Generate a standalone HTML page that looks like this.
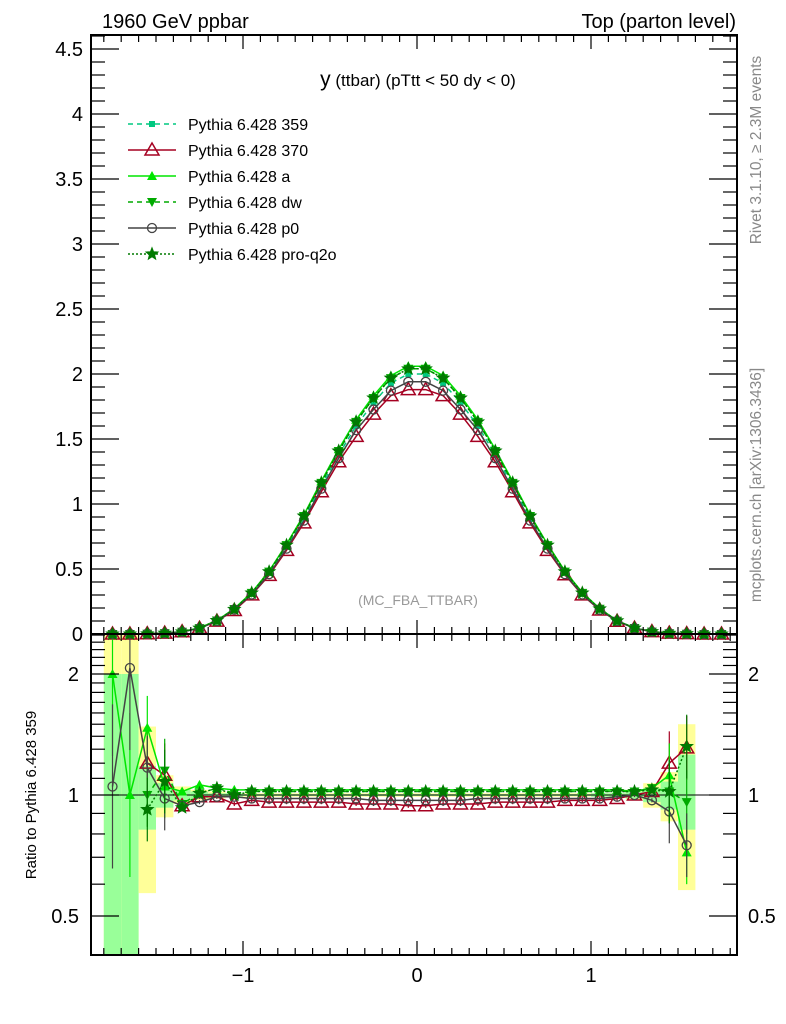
<!DOCTYPE html>
<html><head><meta charset="utf-8">
<style>
body{margin:0;background:#fff;}
svg{display:block;font-family:"Liberation Sans",sans-serif;}
</style></head>
<body>
<svg id="c" width="786" height="1024" viewBox="0 0 786 1024" xmlns="http://www.w3.org/2000/svg">
<text x="102" y="28" font-size="20">1960 GeV ppbar</text>
<text x="736" y="28" font-size="20" text-anchor="end">Top (parton level)</text>
<text x="418" y="86" font-size="17" text-anchor="middle"><tspan font-size="21">y</tspan> (ttbar) (pTtt &lt; 50 dy &lt; 0)</text>
<text x="418" y="605" font-size="14" fill="#999" text-anchor="middle">(MC_FBA_TTBAR)</text>
<text transform="translate(761,150) rotate(-90)" font-size="15.5" fill="#888" text-anchor="middle">Rivet 3.1.10, ≥ 2.3M events</text>
<text transform="translate(761,485) rotate(-90)" font-size="15.5" fill="#888" text-anchor="middle">mcplots.cern.ch [arXiv:1306.3436]</text>
<text transform="translate(36,795) rotate(-90)" font-size="15" text-anchor="middle">Ratio to Pythia 6.428 359</text>
<g id="bands"></g><g id="marks"></g><g id="axes"></g><g id="legend"></g>
</svg>
<script>
const xCenters=[-1.75,-1.65,-1.55,-1.45,-1.35,-1.25,-1.15,-1.05,-0.95,-0.85,-0.75,-0.65,-0.55,-0.45,-0.35,-0.25,-0.15,-0.05,0.05,0.15,0.25,0.35,0.45,0.55,0.65,0.75,0.85,0.95,1.05,1.15,1.25,1.35,1.45,1.55,1.65,1.75];
const ref359=[0.0001,0.0005,0.002,0.006,0.018,0.045,0.10,0.19,0.31,0.47,0.67,0.89,1.14,1.38,1.60,1.78,1.93,2.00,2.00,1.93,1.78,1.60,1.38,1.14,0.89,0.67,0.47,0.31,0.19,0.10,0.045,0.018,0.006,0.002,0.0005,0.0001];
const ratio370=[null,null,1.20,1.12,0.94,0.99,0.99,0.95,0.97,0.96,0.96,0.96,0.96,0.96,0.95,0.95,0.95,0.94,0.94,0.95,0.95,0.95,0.96,0.96,0.96,0.96,0.97,0.97,0.97,0.98,1.00,1.02,1.20,1.31,null,null];
const ratioA=[2.0,1.0,1.47,1.05,1.02,1.06,1.04,1.03,1.03,1.03,1.03,1.03,1.03,1.03,1.03,1.03,1.03,1.03,1.03,1.03,1.03,1.03,1.03,1.03,1.03,1.03,1.03,1.03,1.03,1.03,1.02,1.04,1.12,0.72,null,null];
const ratioDW=[null,null,1.00,1.15,0.95,1.01,1.04,1.01,1.02,1.02,1.02,1.02,1.02,1.02,1.02,1.02,1.02,1.02,1.02,1.02,1.02,1.02,1.02,1.02,1.02,1.02,1.02,1.02,1.02,1.02,1.02,1.04,1.02,0.96,null,null];
const ratioP0=[1.05,2.07,1.17,0.98,0.94,0.96,0.99,0.99,0.98,0.98,0.98,0.98,0.98,0.98,0.98,0.97,0.97,0.97,0.97,0.97,0.97,0.98,0.98,0.98,0.98,0.98,0.98,0.98,0.98,0.99,1.00,0.97,0.91,0.75,null,null];
const ratioQ2O=[null,null,0.92,1.08,0.93,1.01,1.04,1.00,1.02,1.02,1.02,1.02,1.02,1.02,1.02,1.02,1.02,1.02,1.02,1.02,1.02,1.02,1.02,1.02,1.02,1.02,1.02,1.02,1.02,1.02,1.02,1.03,1.02,1.32,null,null];
const yellowLo=[0.4,0.4,0.57,0.88,0.95,0.97,0.98,0.99,0.99,0.99,0.99,0.99,0.99,0.99,0.99,0.99,0.99,0.99,0.99,0.99,0.99,0.99,0.99,0.99,0.99,0.99,0.99,0.99,0.99,0.99,0.97,0.93,0.86,0.58,null,null];
const yellowHi=[2.53,2.53,1.48,1.12,1.05,1.03,1.02,1.01,1.01,1.01,1.01,1.01,1.01,1.01,1.01,1.01,1.01,1.01,1.01,1.01,1.01,1.01,1.01,1.01,1.01,1.01,1.01,1.01,1.01,1.01,1.03,1.07,1.14,1.50,null,null];
const greenLo=[0.4,0.4,0.82,0.93,0.97,0.98,0.99,0.99,0.995,0.995,0.995,0.995,0.995,0.995,0.995,0.995,0.995,0.995,0.995,0.995,0.995,0.995,0.995,0.995,0.995,0.995,0.995,0.995,0.99,0.99,0.98,0.96,0.92,0.82,null,null];
const greenHi=[2.0,2.0,1.18,1.07,1.03,1.02,1.01,1.01,1.005,1.005,1.005,1.005,1.005,1.005,1.005,1.005,1.005,1.005,1.005,1.005,1.005,1.005,1.005,1.005,1.005,1.005,1.005,1.005,1.01,1.01,1.02,1.04,1.08,1.26,null,null];
const mainTicks=[0,0.5,1,1.5,2,2.5,3,3.5,4,4.5];
const mainTickLabels=["0","0.5","1","1.5","2","2.5","3","3.5","4","4.5"];
const ratioTicks=[0.5,1,2];
const ratioTickLabels=["0.5","1","2"];
const xTicks=[-1,0,1];
const xTickLabels=["\u22121","0","1"];

const NS="http://www.w3.org/2000/svg";
const L=91,R=737,T=35,M=634,B=955;
const X=v=>417+v*174;
const Ym=v=>M-v*130;
const Yr=v=>795-Math.log2(v)*121;
const clipR=v=>Math.max(633,Math.min(955,Yr(v)));
function el(tag,attrs,parent){const e=document.createElementNS(NS,tag);for(const k in attrs)e.setAttribute(k,attrs[k]);parent.appendChild(e);return e;}
const bands=document.getElementById('bands'),marks=document.getElementById('marks'),axes=document.getElementById('axes'),legend=document.getElementById('legend');

xCenters.forEach((x,i)=>{
 if(yellowLo[i]==null)return;
 const r=el('rect',{x:X(x-0.05),y:clipR(yellowHi[i]),width:174*0.1,height:clipR(yellowLo[i])-clipR(yellowHi[i]),fill:'#ffff99'},bands);
 
 
 const g=el('rect',{x:X(x-0.05),y:clipR(greenHi[i]),width:174*0.1,height:clipR(greenLo[i])-clipR(greenHi[i]),fill:'#99ff99'},bands);
 
 
});
const one=el('line',{x1:L,x2:R,y1:Yr(1),y2:Yr(1),stroke:'#000','stroke-width':1},bands);



const series=[
 {name:'359',ratio:null,color:'#00c880',dash:'5,4',marker:'square'},
 {name:'370',ratio:ratio370,color:'#a50021',dash:'',marker:'tri-open'},
 {name:'a',ratio:ratioA,color:'#00e600',dash:'',marker:'tri'},
 {name:'dw',ratio:ratioDW,color:'#00aa00',dash:'5,4',marker:'tri-down'},
 {name:'p0',ratio:ratioP0,color:'#444444',dash:'',marker:'circle'},
 {name:'pro-q2o',ratio:ratioQ2O,color:'#007a00',dash:'2,2',marker:'star'}
];
function marker(type,cx,cy,c,parent,nm){
 let m;
 if(type==='square')m=el('rect',{x:cx-3,y:cy-3,width:6,height:6,fill:c},parent);
 else if(type==='tri-open')m=el('polygon',{points:`${cx},${cy-7} ${cx-7},${cy+5} ${cx+7},${cy+5}`,fill:'none',stroke:c,'stroke-width':1.5},parent);
 else if(type==='tri')m=el('polygon',{points:`${cx},${cy-5} ${cx-5},${cy+4} ${cx+5},${cy+4}`,fill:c},parent);
 else if(type==='tri-down')m=el('polygon',{points:`${cx},${cy+5} ${cx-5},${cy-4} ${cx+5},${cy-4}`,fill:c},parent);
 else if(type==='circle')m=el('circle',{cx:cx,cy:cy,r:4.5,fill:'none',stroke:c,'stroke-width':1.3},parent);
 else {let p=[];for(let k=0;k<10;k++){const a=-Math.PI/2+k*Math.PI/5,rr=k%2?2.8:6.5;p.push((cx+rr*Math.cos(a)).toFixed(1)+','+(cy+rr*Math.sin(a)).toFixed(1));}
  m=el('polygon',{points:p.join(' '),fill:c,stroke:c,'stroke-width':0.8},parent);}
 
 
 return m;
}
series.forEach(s=>{
 const g=el('g',{},marks);
 
 
 const rat=s.ratio||xCenters.map((x,i)=>1);
 let pts=[];
 xCenters.forEach((x,i)=>{const r=rat[i]==null?0:rat[i];pts.push([X(x),Ym(ref359[i]*r)]);});
 const pl=el('polyline',{points:pts.map(p=>p.join(',')).join(' '),fill:'none',stroke:s.color,'stroke-width':1.5,'stroke-dasharray':s.dash},g);
 
 
 pts.forEach(p=>marker(s.marker,p[0],p[1],s.color,g,'main-point-'+s.name));
 if(s.ratio){
  let rp=[];
  xCenters.forEach((x,i)=>{if(rat[i]!=null)rp.push([X(x),clipR(rat[i])]);});
  const rl=el('polyline',{points:rp.map(p=>p.join(',')).join(' '),fill:'none',stroke:s.color,'stroke-width':1.5,'stroke-dasharray':s.dash},g);
  
  
  xCenters.forEach((x,i)=>{
   if(rat[i]==null)return;
   const err=i<2?0.6:(i<4||i>31?0.2:0.012);
   const e=el('line',{x1:X(x),x2:X(x),y1:clipR(rat[i]*(1+err)),y2:clipR(rat[i]/(1+err)),stroke:s.color,'stroke-width':1.2},g);
   
   
   if(Yr(rat[i])>=633&&Yr(rat[i])<=955)marker(s.marker,X(x),Yr(rat[i]),s.color,g,'ratio-point-'+s.name);
  });
 }
});

[[T,M],[M,B]].forEach(([t,b],k)=>{
 const f=el('rect',{x:L,y:t,width:R-L,height:b-t,fill:'none',stroke:'#000','stroke-width':2},axes);
 
 
 for(let v=-1.8;v<=1.81;v+=0.1){const px=X(v);if(px<L||px>R)continue;
  const maj=Math.abs(v-Math.round(v))<1e-6;const len=maj?14:7;
  el('line',{x1:px,x2:px,y1:t,y2:t+len,stroke:'#000','stroke-width':1.2},axes);
  el('line',{x1:px,x2:px,y1:b,y2:b-len,stroke:'#000','stroke-width':1.2},axes);}
});
xTicks.forEach((v,i)=>{const t=el('text',{x:X(v),y:982,'font-size':20,'text-anchor':'middle'},axes);t.textContent=xTickLabels[i];
 });
for(let v=0;v<=4.61;v+=0.1){const py=Ym(v);if(py<T)continue;const maj=Math.abs(v*2-Math.round(v*2))<1e-6;const len=maj?28:14;
 el('line',{x1:L,x2:L+len,y1:py,y2:py,stroke:'#000','stroke-width':1.2},axes);
 el('line',{x1:R,x2:R-len,y1:py,y2:py,stroke:'#000','stroke-width':1.2},axes);}
mainTicks.forEach((v,i)=>{const t=el('text',{x:83,y:Ym(v)+7,'font-size':20,'text-anchor':'end'},axes);t.textContent=mainTickLabels[i];
 });
[0.4,0.5,0.6,0.7,0.8,0.9,1,1.1,1.2,1.3,1.4,1.5,1.6,1.7,1.8,1.9,2,2.1,2.2,2.3,2.4,2.5].forEach(v=>{const py=Yr(v);if(py<M||py>B)return;
 const maj=[0.5,1,2].includes(v);const len=maj?28:14;
 el('line',{x1:L,x2:L+len,y1:py,y2:py,stroke:'#000','stroke-width':1.2},axes);
 el('line',{x1:R,x2:R-len,y1:py,y2:py,stroke:'#000','stroke-width':1.2},axes);});
ratioTicks.forEach((v,i)=>{
 const t=el('text',{x:79,y:Yr(v)+7,'font-size':20,'text-anchor':'end'},axes);t.textContent=ratioTickLabels[i];
 
 const t2=el('text',{x:748,y:Yr(v)+7,'font-size':20},axes);t2.textContent=ratioTickLabels[i];
 });

series.forEach((s,i)=>{
 const y=124+i*26;
 const g=el('g',{},legend);
 
 
 el('line',{x1:128,x2:176,y1:y,y2:y,stroke:s.color,'stroke-width':1.5,'stroke-dasharray':s.dash},g);
 marker(s.marker,152,y,s.color,g,'legend-marker');
 const t=el('text',{x:188,y:y+6,'font-size':16},g);t.textContent='Pythia 6.428 '+s.name;
});
</script>
</body></html>
